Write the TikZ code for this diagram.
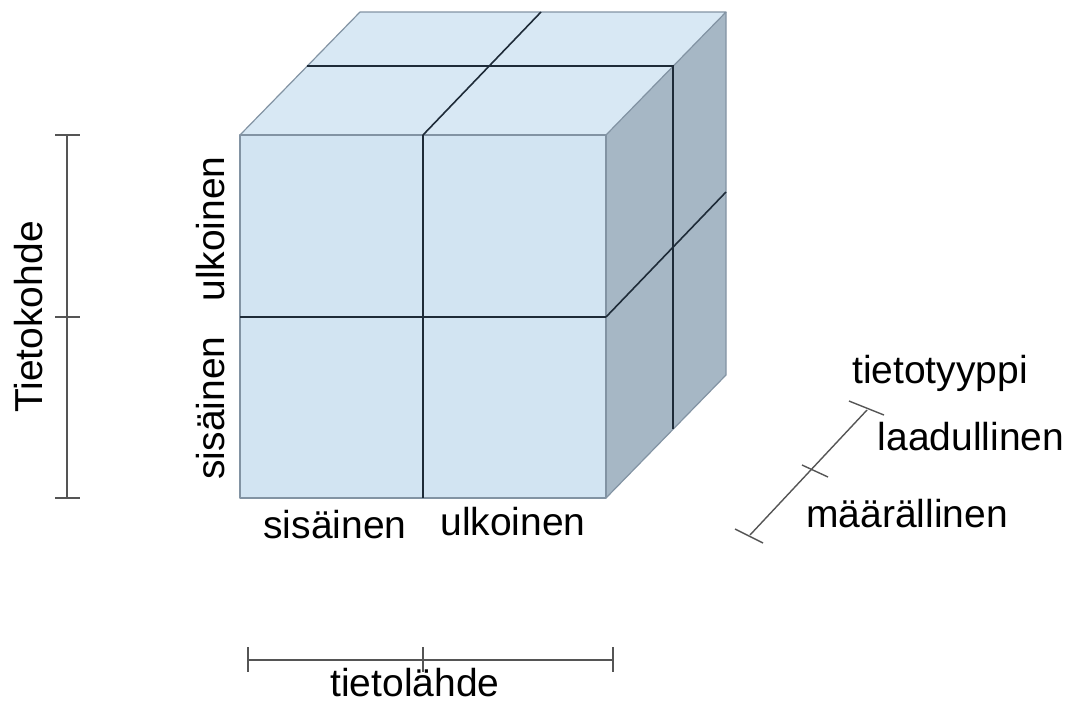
\documentclass[tikz,border=0pt]{standalone}
\usepackage{fontspec}
\setmainfont{Liberation Sans}
\definecolor{frontc}{HTML}{D2E4F2}
\definecolor{topc}{HTML}{D8E8F4}
\definecolor{sidec}{HTML}{A6B7C5}
\definecolor{edgec}{HTML}{8293A3}
\definecolor{innerc}{HTML}{1E2B38}
\definecolor{scalec}{HTML}{555555}
\begin{document}
\begin{tikzpicture}[x=1pt,y=-1pt,
  lbl/.style={font=\fontsize{39}{45}\selectfont, inner sep=0pt, anchor=base},
  face/.style={draw=edgec, line width=1.2pt, line join=round},
  inner/.style={draw=innerc, line width=1.6pt},
  scaleline/.style={draw=scalec, line width=2pt}]
\useasboundingbox (0,0) rectangle (1082,705);
% cube corners
\coordinate (FTL) at (240,135);
\coordinate (FTR) at (606,135);
\coordinate (FBR) at (606,498);
\coordinate (FBL) at (240,498);
\coordinate (BTL) at (360,12);
\coordinate (BTR) at (726,12);
\coordinate (BBR) at (726,375);
% faces
\fill[frontc] (FTL) -- (FTR) -- (FBR) -- (FBL) -- cycle;
\fill[topc] (FTL) -- (FTR) -- (BTR) -- (BTL) -- cycle;
\fill[sidec] (FTR) -- (BTR) -- (BBR) -- (FBR) -- cycle;
\draw[face] (FTL) -- (FTR) -- (FBR) -- (FBL) -- cycle;
\draw[face] (FTL) -- (BTL) -- (BTR) -- (FTR);
\draw[face] (BTR) -- (BBR) -- (FBR);
% inner division lines
\coordinate (FTM) at (423,135);
\coordinate (FBM) at (423,498);
\coordinate (FLM) at (240,317);
\coordinate (FRM) at (606,317);
\coordinate (BTM) at (541,12);
\coordinate (TL2) at (307,66);
\coordinate (TR2) at (673,66);
\coordinate (BR2) at (673,429);
\coordinate (BRM) at (726,192);
\draw[inner] (FTM) -- (FBM);
\draw[inner] (FLM) -- (FRM);
\draw[inner] (FTM) -- (BTM);
\draw[inner] (TL2) -- (TR2) -- (BR2);
\draw[inner] (FRM) -- (BRM);
% left scale
\coordinate (LT) at (67,135);
\coordinate (LM) at (67,317);
\coordinate (LB) at (67,498);
\draw[scaleline] (LT) -- (LB);
\draw[scaleline] (55,135) -- (80,135);
\draw[scaleline] (55,317) -- (80,317);
\draw[scaleline] (55,498) -- (80,498);
\node[lbl, rotate=90] (tk) at (42,317) {Tietokohde};
% bottom scale
\coordinate (BL) at (248,660);
\coordinate (BM) at (423,660);
\coordinate (BR) at (613,660);
\draw[scaleline] (BL) -- (BR);
\draw[scaleline] (248,647) -- (248,672);
\draw[scaleline] (423,647) -- (423,672);
\draw[scaleline] (613,647) -- (613,672);
\node[lbl] (tl) at (415,696) {tietolähde};
% right scale
\coordinate (RB) at (750,535);
\coordinate (RT) at (867,410);
\draw[scaleline, line width=1.4pt] (RB) -- (RT);
\draw[scaleline, line width=1.4pt] (735,529) -- (763,543);
\draw[scaleline, line width=1.4pt] (802,465) -- (828,477);
\draw[scaleline, line width=1.4pt] (849,401) -- (884,415);
\node[lbl] (tt) at (940,383) {tietotyyppi};
\node[lbl] (la) at (971,450) {laadullinen};
\node[lbl] (ma) at (907,527) {määrällinen};
% cube labels
\node[lbl] (s1) at (335,538) {sisäinen};
\node[lbl] (u1) at (513,535) {ulkoinen};
\node[lbl, rotate=90] (u2) at (224,229) {ulkoinen};
\node[lbl, rotate=90] (s2) at (224,408) {sisäinen};
\end{tikzpicture}
\end{document}
